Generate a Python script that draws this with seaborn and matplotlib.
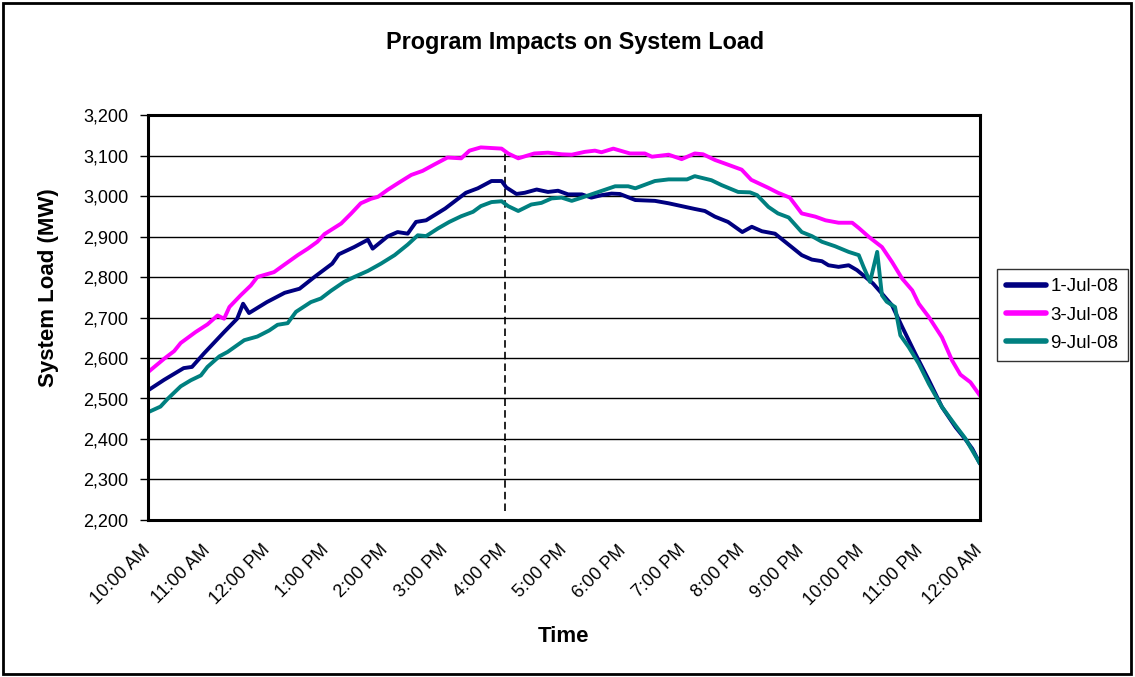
import numpy as np
import pandas as pd
import matplotlib as mpl
mpl.use('Agg')
import matplotlib.pyplot as plt
from matplotlib.patches import Rectangle
from matplotlib.ticker import FuncFormatter
import seaborn as sns

# hours after 10:00 AM, load in MW
t_jul1 = [0.0, 0.27, 0.6, 0.74, 0.94, 1.28, 1.5, 1.6, 1.7, 2.0, 2.3, 2.55, 2.8, 3.1, 3.21, 3.47,
          3.7, 3.78, 4.03, 4.2, 4.37, 4.51, 4.68, 5.0, 5.35, 5.55, 5.78, 5.95, 6.03, 6.2, 6.34,
          6.54, 6.73, 6.9, 7.07, 7.3, 7.46, 7.63, 7.8, 7.94, 8.2, 8.53, 8.76, 8.98, 9.2, 9.37,
          9.54, 9.76, 10.0, 10.16, 10.33, 10.55, 10.72, 11.0, 11.17, 11.34, 11.45, 11.62, 11.79,
          11.93, 12.07, 12.2, 12.35, 12.52, 12.69, 12.91, 13.14, 13.36, 13.59, 13.75, 13.87, 14.0]
mw_jul1 = [2520, 2546, 2575, 2578, 2611, 2664, 2697, 2734, 2711, 2738, 2761, 2771, 2800, 2833, 2856, 2874,
           2892, 2870, 2900, 2911, 2907, 2936, 2940, 2969, 3008, 3019, 3037, 3037, 3021, 3005, 3008,
           3016, 3010, 3013, 3004, 3004, 2996, 3002, 3006, 3005, 2990, 2988, 2982, 2975, 2968, 2963,
           2949, 2936, 2911, 2924, 2913, 2907, 2887, 2854, 2843, 2839, 2829, 2825, 2829,
           2817, 2800, 2784, 2759, 2730, 2677, 2611, 2545, 2479, 2429, 2400, 2376, 2339]

t_jul3 = [0.0, 0.27, 0.44, 0.55, 0.8, 1.0, 1.17, 1.28, 1.37, 1.56, 1.73, 1.84, 2.12, 2.3, 2.52, 2.69,
          2.85, 2.97, 3.25, 3.42, 3.58, 3.75, 3.87, 4.03, 4.2, 4.43, 4.62, 4.82, 5.04, 5.27, 5.41,
          5.6, 5.95, 6.06, 6.23, 6.5, 6.73, 6.96, 7.13, 7.35, 7.52, 7.63, 7.83, 8.11, 8.36, 8.48,
          8.76, 8.98, 9.2, 9.34, 9.54, 9.71, 9.99, 10.15, 10.44, 10.6, 10.8, 11.0, 11.23, 11.4,
          11.62, 11.85, 11.96, 12.13, 12.35, 12.52, 12.69, 12.86, 12.97, 13.14, 13.36, 13.53,
          13.67, 13.84, 14.0]
mw_jul3 = [2565, 2598, 2617, 2637, 2664, 2683, 2705, 2697, 2726, 2755, 2779, 2800, 2812, 2831, 2854, 2870,
           2887, 2906, 2932, 2957, 2982, 2993, 2998, 3015, 3031, 3052, 3062, 3078, 3095, 3093, 3112,
           3120, 3117, 3105, 3093, 3105, 3107, 3103, 3102, 3109, 3112, 3108, 3117, 3105, 3105, 3097,
           3102, 3091, 3105, 3103, 3089, 3080, 3065, 3040, 3020, 3008, 2996, 2957, 2949, 2940,
           2934, 2934, 2921, 2899, 2874, 2837, 2796, 2767, 2734, 2701, 2651, 2594,
           2559, 2540, 2507]

t_jul9 = [0.0, 0.21, 0.33, 0.55, 0.72, 0.89, 1.0, 1.2, 1.34, 1.62, 1.84, 2.04, 2.18, 2.35, 2.49, 2.74,
          2.91, 3.08, 3.3, 3.47, 3.7, 3.92, 4.15, 4.37, 4.54, 4.68, 4.88, 5.07, 5.27, 5.47, 5.6,
          5.78, 5.95, 6.06, 6.23, 6.45, 6.62, 6.79, 6.96, 7.13, 7.3, 7.58, 7.86, 8.08, 8.2, 8.53,
          8.76, 9.07, 9.2, 9.48, 9.65, 9.93, 10.13, 10.25, 10.44, 10.6, 10.78, 11.0, 11.17, 11.34,
          11.56, 11.79, 11.96, 12.04, 12.15, 12.27, 12.35, 12.43, 12.57, 12.66, 12.8, 12.97,
          13.14, 13.36, 13.59, 13.75, 14.0]
mw_jul9 = [2466, 2480, 2499, 2530, 2545, 2557, 2578, 2604, 2615, 2644, 2653, 2668, 2682, 2686, 2714, 2738,
           2747, 2766, 2788, 2800, 2815, 2833, 2854, 2880, 2903, 2901, 2920, 2936, 2950, 2961, 2975,
           2985, 2987, 2975, 2963, 2979, 2983, 2994, 2996, 2988, 2996, 3010, 3024, 3024, 3019, 3037,
           3041, 3041, 3049, 3039, 3027, 3010, 3009, 3002, 2973, 2957, 2947, 2911, 2901, 2887,
           2876, 2862, 2854, 2825, 2788, 2862, 2755, 2739, 2726, 2656, 2627, 2586,
           2536, 2479, 2433, 2402, 2339]

series_names = ['1-Jul-08', '3-Jul-08', '9-Jul-08']
series_colors = ['#000080', '#FF00FF', '#008080']
tick_labels = ['10:00 AM', '11:00 AM', '12:00 PM', '1:00 PM', '2:00 PM', '3:00 PM', '4:00 PM',
               '5:00 PM', '6:00 PM', '7:00 PM', '8:00 PM', '9:00 PM', '10:00 PM', '11:00 PM',
               '12:00 AM']

df = pd.concat([
    pd.DataFrame({'hours': t_jul1, 'load': mw_jul1, 'day': series_names[0]}),
    pd.DataFrame({'hours': t_jul3, 'load': mw_jul3, 'day': series_names[1]}),
    pd.DataFrame({'hours': t_jul9, 'load': mw_jul9, 'day': series_names[2]}),
])

sns.set_style('white')
plt.rcParams['font.family'] = ['Liberation Sans', 'DejaVu Sans']
for k in ['text.color', 'axes.labelcolor', 'xtick.color', 'ytick.color']:
    plt.rcParams[k] = 'black'

fig = plt.figure(figsize=(11.35, 6.77), dpi=100)
ax = fig.add_axes([148 / 1135, 1 - 520 / 677, 832 / 1135, 405 / 677])

sns.lineplot(data=df, x='hours', y='load', hue='day', palette=dict(zip(series_names, series_colors)),
             estimator=None, sort=False, linewidth=2.8, ax=ax)

# 4:00 PM marker
ax.vlines(6, 2222, 3108, colors='black', linestyles=(0, (4.5, 2.5)), linewidth=1.2, zorder=1)

ax.set_xlim(0, 14)
ax.set_ylim(2200, 3200)
ax.set_yticks(np.arange(2200, 3201, 100))
ax.yaxis.set_major_formatter(FuncFormatter(lambda v, p: f'{int(v):,}'))
ax.set_xticks(range(len(tick_labels)))
ax.set_xticklabels(tick_labels, rotation=45, ha='right', va='center', rotation_mode='anchor')
ax.grid(axis='y', color='black', linewidth=1)
ax.set_axisbelow(True)
ax.tick_params(axis='y', direction='out', length=6, width=1, labelsize=13, left=True, pad=8)
ax.tick_params(axis='x', direction='out', length=0, labelsize=13, pad=20)
for s in ax.spines.values():
    s.set_color('black')
    s.set_linewidth(2.2)

ax.set_xlabel('Time', fontsize=16, fontweight='bold')
ax.xaxis.set_label_coords(0.5, -0.262)
ax.set_ylabel('System Load (MW)', fontsize=16, fontweight='bold')
ax.yaxis.set_label_coords(-0.107, 0.573)
fig.text(575 / 1135, 1 - 43 / 677, 'Program Impacts on System Load', ha='center', va='center',
         fontsize=16.8, fontweight='bold')

ax.get_legend().remove()
handles, labels = ax.get_legend_handles_labels()
leg = fig.legend(handles, labels, loc='center left', bbox_to_anchor=(997 / 1135, 1 - 315 / 677),
                 frameon=True, fancybox=False, edgecolor='black', fontsize=13.5,
                 handlelength=2.1, borderpad=0.5, labelspacing=0.6, handletextpad=0.25,
                 borderaxespad=0)
leg.get_frame().set_linewidth(1)
for ln in leg.get_lines():
    ln.set_linewidth(4)

fig.patches.append(Rectangle((3 / 1135, 3 / 677), 1128 / 1135, 671 / 677, transform=fig.transFigure,
                             fill=False, edgecolor='black', linewidth=2))

fig.savefig('out.png', dpi=100)
